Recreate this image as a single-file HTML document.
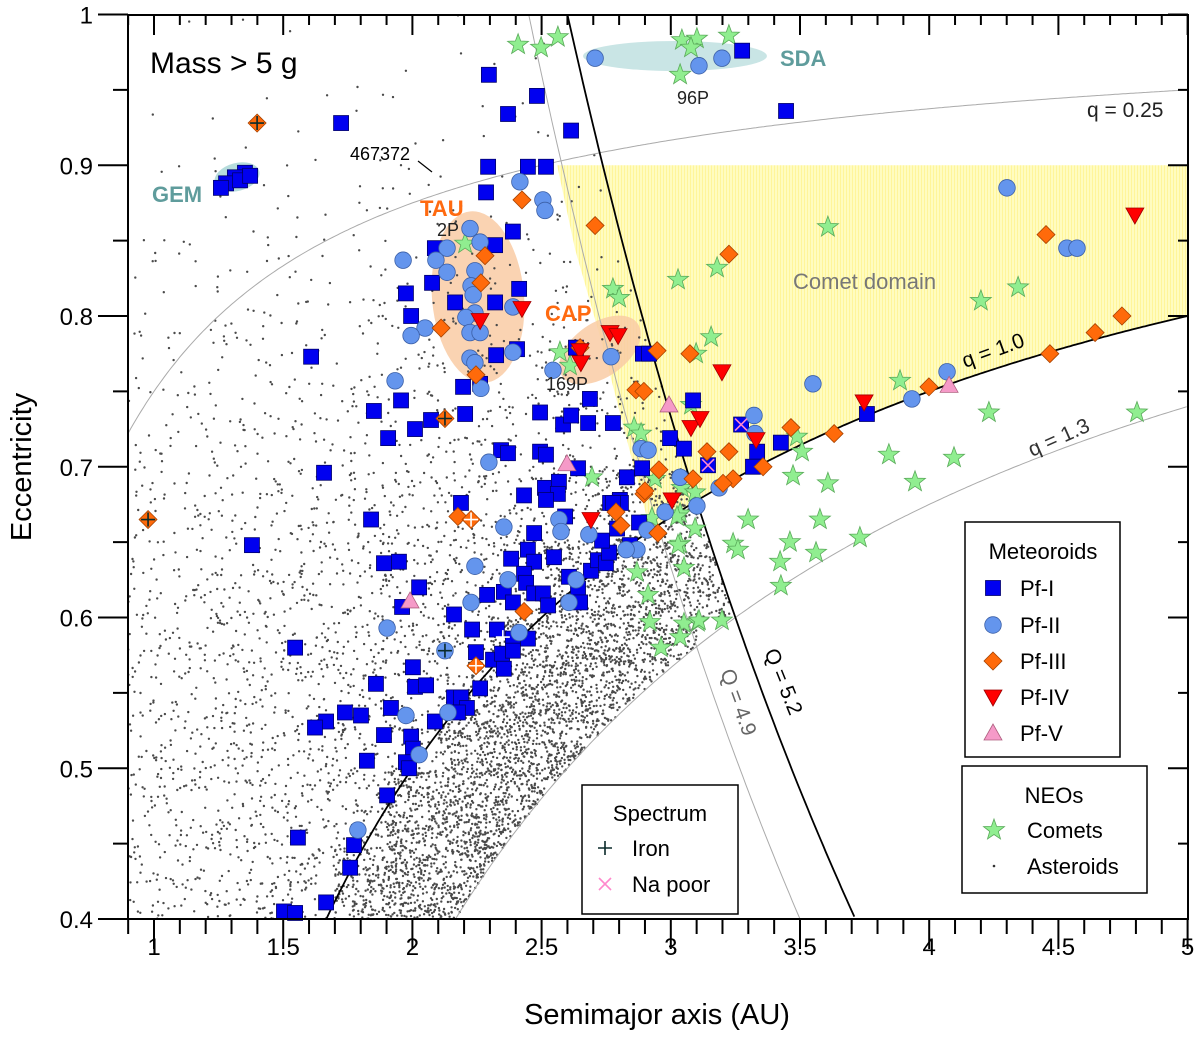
<!DOCTYPE html>
<html><head><meta charset="utf-8"><style>
html,body{margin:0;padding:0;background:#fff;}
svg{display:block;font-family:"Liberation Sans",Arial,sans-serif;}
</style></head><body>
<svg id="chart" width="1200" height="1040" viewBox="0 0 1200 1040" xmlns="http://www.w3.org/2000/svg">
<g id="bg"></g>
<g id="dots"></g>
<g id="curves"></g>
<g id="marks"></g>
<g id="axes"></g>
<g id="ann">
 <text x="150" y="73" font-size="30">Mass &gt; 5 g</text>
 <text x="152" y="202" font-size="22" font-weight="bold" fill="#5f9c9c">GEM</text>
 <text x="420" y="216" font-size="22" font-weight="bold" fill="#ff6a10">TAU</text>
 <text x="545" y="321" font-size="22" font-weight="bold" fill="#ff6a10">CAP</text>
 <text x="780" y="66" font-size="22" font-weight="bold" fill="#5f9c9c">SDA</text>
 <text x="437" y="236" font-size="18" fill="#222">2P</text>
 <text x="546" y="390" font-size="18" fill="#222">169P</text>
 <text x="677" y="104" font-size="18" fill="#222">96P</text>
 <text x="350" y="160" font-size="18" fill="#000">467372</text>
 <line x1="418" y1="161" x2="432" y2="172" stroke="#000" stroke-width="1.2"/>
 <text x="793" y="289" font-size="22" fill="#777">Comet domain</text>
 <text x="1087" y="117" font-size="21" fill="#222">q = 0.25</text>
 <text x="0" y="0" font-size="21" fill="#000" transform="translate(965,368) rotate(-20)">q = 1.0</text>
 <text x="0" y="0" font-size="21" fill="#333" transform="translate(1032,457) rotate(-24)">q = 1.3</text>
 <text x="0" y="0" font-size="21" fill="#000" transform="translate(764,652) rotate(68)">Q = 5.2</text>
 <text x="0" y="0" font-size="21" fill="#666" transform="translate(720,672) rotate(70)">Q = 4.9</text>
</g>
<g id="legends"></g>
</svg>
<script>
// ---------- data ----------
const xTicks=[1,1.5,2,2.5,3,3.5,4,4.5,5];
const xTickLabels=["1","1.5","2","2.5","3","3.5","4","4.5","5"];
const yTicks=[0.4,0.5,0.6,0.7,0.8,0.9,1];
const yTickLabels=["0.4","0.5","0.6","0.7","0.8","0.9","1"];

const pf1A=[1.724,2.296,2.482,2.370,2.614,2.293,2.447,2.517,2.285,2.389,2.320,2.087,2.076,1.975,2.165,2.320,2.413,1.995,2.324,2.405,1.608,2.196,2.262,1.956,1.851,2.010,1.906,2.072,2.204,2.343,2.494,2.494,2.583,2.614,2.680,2.687,2.776,2.892,2.633,1.352,1.313,1.279,1.259,1.333,1.372,3.276,3.446,2.916,3.086,2.997,3.051,3.426,3.759,3.334,3.318,2.830,2.889,2.765,2.803,1.658,1.379,1.840,1.890,1.948,2.026,1.960,1.546,2.188,2.370,2.517,2.641,2.432,2.513,2.567,2.563,2.517,2.591,2.471,2.447,2.382,2.471,2.548,2.432,2.440,2.354,2.389,2.471,2.505,2.525,2.289,2.161,2.231,2.327,2.389,2.447,2.246,2.312,2.354,2.347,2.389,2.002,1.859,2.010,2.053,2.262,2.161,2.188,2.211,2.176,2.087,1.917,1.739,1.801,1.666,1.623,1.890,1.995,2.002,1.824,1.975,1.987,1.902,1.557,1.774,1.759,1.666,1.503,1.546,2.606,2.641,2.649,2.691,2.718,2.749,2.761,2.734,2.807,2.776,2.842,2.877,2.792,3.272,3.144];
const pf1E=[0.928,0.960,0.946,0.934,0.923,0.899,0.899,0.899,0.882,0.856,0.847,0.845,0.822,0.815,0.809,0.809,0.818,0.800,0.774,0.778,0.773,0.753,0.755,0.744,0.737,0.725,0.719,0.731,0.735,0.711,0.710,0.736,0.728,0.734,0.729,0.745,0.729,0.775,0.779,0.895,0.892,0.888,0.885,0.890,0.893,0.976,0.936,0.775,0.744,0.719,0.712,0.716,0.735,0.710,0.700,0.693,0.699,0.676,0.678,0.696,0.648,0.665,0.636,0.637,0.620,0.607,0.580,0.676,0.709,0.708,0.699,0.681,0.686,0.690,0.682,0.678,0.667,0.656,0.645,0.639,0.637,0.640,0.629,0.623,0.617,0.610,0.616,0.616,0.608,0.615,0.602,0.592,0.592,0.586,0.586,0.577,0.572,0.566,0.576,0.578,0.567,0.556,0.554,0.555,0.553,0.547,0.547,0.540,0.537,0.531,0.540,0.537,0.535,0.531,0.527,0.522,0.521,0.513,0.505,0.504,0.500,0.482,0.454,0.449,0.434,0.411,0.405,0.404,0.627,0.619,0.610,0.631,0.638,0.636,0.643,0.651,0.676,0.676,0.648,0.663,0.659,0.728,0.701];

const pf2A=[2.707,3.109,3.198,2.416,2.505,2.513,2.223,2.262,2.134,2.091,1.964,2.134,2.242,2.227,2.235,2.242,2.207,2.223,2.262,2.049,1.995,2.389,2.389,2.223,2.242,1.933,2.265,2.544,2.769,2.885,4.301,4.533,4.572,3.550,4.069,3.933,3.322,3.326,2.912,3.036,3.187,3.101,2.978,2.296,2.354,2.567,2.575,2.683,2.242,2.227,2.370,1.902,1.975,2.138,2.026,1.789,2.606,2.633,2.908,2.869,2.827,2.413,2.126];
const pf2E=[0.971,0.966,0.971,0.889,0.877,0.870,0.858,0.849,0.845,0.837,0.837,0.829,0.830,0.820,0.814,0.802,0.799,0.789,0.789,0.792,0.787,0.806,0.776,0.772,0.769,0.757,0.752,0.764,0.773,0.712,0.885,0.845,0.845,0.755,0.763,0.745,0.734,0.722,0.711,0.693,0.686,0.674,0.670,0.703,0.660,0.665,0.657,0.655,0.634,0.610,0.625,0.593,0.535,0.537,0.509,0.459,0.610,0.625,0.658,0.645,0.645,0.590,0.578];

const pf3A=[1.399,2.424,2.707,2.281,2.265,2.111,2.246,2.865,2.126,2.649,3.225,4.452,4.746,4.642,4.467,3.999,3.632,3.465,3.225,3.140,2.947,3.074,2.896,3.357,3.241,3.202,3.086,2.954,2.896,2.788,0.977,2.176,2.227,2.432,2.246,2.807,2.950,2.900];
const pf3E=[0.928,0.877,0.860,0.840,0.822,0.792,0.761,0.751,0.732,0.779,0.841,0.854,0.800,0.789,0.775,0.753,0.722,0.726,0.710,0.710,0.777,0.775,0.750,0.700,0.692,0.689,0.692,0.698,0.682,0.670,0.665,0.667,0.665,0.604,0.568,0.661,0.656,0.684];

const pf4A=[2.424,2.262,2.765,2.796,2.649,2.652,3.198,3.748,4.796,3.078,3.113,3.330,3.005,2.691];
const pf4E=[0.805,0.797,0.789,0.787,0.777,0.769,0.763,0.743,0.867,0.726,0.732,0.718,0.678,0.665];

const pf5A=[2.993,4.077,2.598,1.991];
const pf5E=[0.741,0.754,0.702,0.611];

const cometA=[2.409,2.498,2.563,3.043,3.101,3.078,3.225,3.036,3.608,3.179,3.028,4.344,4.200,2.776,2.800,3.156,3.098,2.571,2.610,2.204,3.887,4.231,4.804,3.078,2.858,2.885,3.488,3.508,3.844,4.096,2.695,3.473,3.608,3.945,2.939,3.043,3.094,3.036,2.927,3.094,3.036,2.869,3.051,2.912,2.919,3.051,3.105,3.036,2.962,3.299,3.577,3.461,3.562,3.732,3.423,3.426,3.241,3.260,3.028,3.109,3.198,3.024];
const cometE=[0.980,0.978,0.985,0.983,0.984,0.978,0.986,0.960,0.859,0.832,0.824,0.819,0.810,0.818,0.812,0.786,0.775,0.776,0.767,0.848,0.757,0.736,0.736,0.741,0.726,0.722,0.720,0.710,0.708,0.706,0.693,0.694,0.689,0.690,0.692,0.686,0.683,0.669,0.666,0.659,0.649,0.630,0.633,0.615,0.597,0.596,0.597,0.587,0.580,0.665,0.665,0.650,0.643,0.653,0.637,0.621,0.649,0.645,0.648,0.598,0.598,0.667];

const ironDarkA=[1.399,2.126,0.977,2.126];
const ironDarkE=[0.928,0.732,0.665,0.578];
const ironLightA=[2.227,2.246,2.35];
const ironLightE=[0.665,0.568,0.587];
const naPoorA=[3.272,3.144];
const naPoorE=[0.728,0.701];

// asteroid density: rows e-bins from 0.40 (step 0.05), cols a-bins from 0.9 (step 0.2)
const astRow0=[40,45,50,55,200,260,260,260,260,0,0,0,0,0,0];
const astRow1=[40,45,50,55,65,230,260,260,260,0,0,0,0,0,0];
const astRow2=[38,42,48,52,60,70,230,260,260,260,0,0,0,0,0];
const astRow3=[34,38,44,48,55,60,70,200,240,240,220,0,0,0,0];
const astRow4=[28,32,38,42,48,52,58,65,180,220,220,180,120,0,0];
const astRow5=[22,26,30,34,38,42,46,50,55,110,150,110,80,40,0];
const astRow6=[16,18,20,22,24,26,28,30,34,36,30,30,20,10,0];
const astRow7=[12,13,14,15,16,17,18,18,18,16,14,8,4,0,0];
const astRow8=[7,8,9,10,10,11,11,11,11,9,5,2,0,0,0];
const astRow9=[4,4,5,6,6,7,7,7,6,4,2,1,0,0,0];
const astRow10=[1,2,2,3,3,3,3,4,4,2,1,0,0,0,0];
const astRow11=[0,1,1,1,1,1,2,2,2,1,0,0,0,0,0];
const astRows=[astRow0,astRow1,astRow2,astRow3,astRow4,astRow5,astRow6,astRow7,astRow8,astRow9,astRow10,astRow11];

// comet domain left boundary (a,e)
const domainA=[2.56,2.63,2.73,2.83,2.92];
const domainE=[0.9,0.844,0.784,0.718,0.658];

// ---------- axes ----------
const L=128,R=1188,T=15,B=919;
const X=a=>154+(a-1)*258.4;
const Y=e=>B-(e-0.4)*1507.5;
const NS="http://www.w3.org/2000/svg";
function mk(tag,attrs,parent){const el=document.createElementNS(NS,tag);for(const k in attrs)el.setAttribute(k,attrs[k]);parent.appendChild(el);return el;}
const gBg=document.getElementById('bg'),gDots=document.getElementById('dots'),gCurves=document.getElementById('curves'),gMarks=document.getElementById('marks'),gAxes=document.getElementById('axes'),gLeg=document.getElementById('legends');

const defs=mk('defs',{},gBg);
const cp=mk('clipPath',{id:'plotclip'},defs);
mk('rect',{x:L,y:T,width:R-L,height:B-T},cp);

const pat=mk('pattern',{id:'stripe',width:3,height:10,patternUnits:'userSpaceOnUse'},defs);
mk('rect',{x:0,y:0,width:3,height:10,fill:'#fffcc0'},pat);
mk('rect',{x:0,y:0,width:1,height:10,fill:'#fff59a'},pat);

let pts=[];
for(let i=0;i<domainA.length;i++)pts.push(X(domainA[i])+','+Y(domainE[i]));
for(let a=domainA[domainA.length-1];a<=5.0001;a+=0.02)pts.push(X(a)+','+Y(1-1/a));
pts.push(X(5)+','+Y(0.9));
const dom=mk('polygon',{points:pts.join(' '),fill:'url(#stripe)'},gBg);



const ell=[[237,177,23,14,-15,'#a9d6d6','gem-ellipse'],[478,297,46,86,-5,'#f9cba5','tau-ellipse'],[600,350,46,27,-35,'#f9cba5','cap-ellipse'],[675,56,92,15,0,'#bfe0e0','sda-ellipse']];
ell.forEach(o=>{const e=mk('ellipse',{cx:0,cy:0,rx:o[2],ry:o[3],fill:o[5],opacity:0.85,transform:`translate(${o[0]},${o[1]}) rotate(${o[4]})`},gBg);

});

function h(n){const s=Math.sin(n*12.9898+78.233)*43758.5453;return s-Math.floor(s);}
let idx=0;let dpath='';
astRows.forEach((row,ri)=>{row.forEach((cnt,ci)=>{
  const e0=0.40+ri*0.05,a0=0.9+ci*0.2;
  for(let k=0;k<cnt;k++){idx++;
    const a=a0+0.2*h(idx*3.1),e=e0+0.05*h(idx*7.7+1.3);
    if(e<1-1.3/a||a*(1+e)>5.2||a<0.9||e>1)continue;
    const x=X(a),y=Y(e);dpath+=`M${(x-1.2).toFixed(1)},${y.toFixed(1)}a1.2,1.2 0 1,0 2.4,0a1.2,1.2 0 1,0 -2.4,0`;}
});});
const dp=mk('path',{d:dpath,fill:'#4a4a4a','clip-path':'url(#plotclip)'},gDots);



function curve(fn,a0,a1,stroke,w,name){let d='';for(let a=a0;a<=a1+1e-6;a+=0.01){const e=fn(a);d+=(d?'L':'M')+X(a).toFixed(1)+','+Y(e).toFixed(1);}
 const p=mk('path',{d:d,fill:'none',stroke:stroke,'stroke-width':w,'clip-path':'url(#plotclip)'},gCurves);
 
 }
curve(a=>1-0.25/a,0.9,5,'#aaa',1,'q-025-curve');
curve(a=>1-1.3/a,1.3/0.6,5,'#aaa',1,'q-13-curve');
curve(a=>1-1/a,1/0.6,5,'#000',1.8,'q-10-curve');
curve(a=>4.9/a-1,2.45,3.5,'#aaa',1,'Q-49-curve');
curve(a=>5.2/a-1,2.6,5.2/1.4,'#000',1.8,'Q-52-curve');

function square(x,y,p){mk('rect',{x:x-7.5,y:y-7.5,width:15,height:15,fill:'#0000f0',stroke:'#00006a','stroke-width':0.8},p);}
function circle(x,y,p){mk('circle',{cx:x,cy:y,r:8.3,fill:'#6495ed',stroke:'#3b5fa6','stroke-width':0.8},p);}
function diamond(x,y,p){mk('polygon',{points:`${x},${y-9} ${x+9},${y} ${x},${y+9} ${x-9},${y}`,fill:'#ff6a0a',stroke:'#a84300','stroke-width':0.8},p);}
function tdown(x,y,p){mk('polygon',{points:`${x-9},${y-7} ${x+9},${y-7} ${x},${y+9}`,fill:'#ff0000',stroke:'#a00000','stroke-width':0.8},p);}
function tup(x,y,p){mk('polygon',{points:`${x-9},${y+7} ${x+9},${y+7} ${x},${y-9}`,fill:'#f59ac8',stroke:'#b06080','stroke-width':0.8},p);}
function star(x,y,p){let s='';for(let i=0;i<10;i++){const r=i%2?4.5:11,an=-Math.PI/2+i*Math.PI/5;s+=(x+r*Math.cos(an)).toFixed(1)+','+(y+r*Math.sin(an)).toFixed(1)+' ';}
 mk('polygon',{points:s,fill:'#90ee90',stroke:'#5aaa5a','stroke-width':0.8},p);}
function plus(x,y,p,c){mk('path',{d:`M${x-7},${y}H${x+7}M${x},${y-7}V${y+7}`,stroke:c,'stroke-width':1.6},p);}
function cross(x,y,p){mk('path',{d:`M${x-6},${y-6}L${x+6},${y+6}M${x+6},${y-6}L${x-6},${y+6}`,stroke:'#ff88cc','stroke-width':1.6},p);}

function series(name,A,E,fn,extra){const g=mk('g',{},gMarks);
 
 
 for(let i=0;i<A.length;i++)fn(X(A[i]),Y(E[i]),g,extra);}
series('comets-series',cometA,cometE,star);
series('pf-i-series',pf1A,pf1E,square);
series('pf-ii-series',pf2A,pf2E,circle);
series('pf-iii-series',pf3A,pf3E,diamond);
series('pf-iv-series',pf4A,pf4E,tdown);
series('pf-v-series',pf5A,pf5E,tup);
series('iron-dark-marks',ironDarkA,ironDarkE,plus,'#0a2a2a');
series('iron-light-marks',ironLightA,ironLightE,plus,'#ffffff');
series('na-poor-marks',naPoorA,naPoorE,cross);

const fr=mk('rect',{x:L,y:T,width:R-L,height:B-T,fill:'none',stroke:'#000','stroke-width':2},gAxes);


let td='';
for(let i=0;i<=41;i++){const a=0.9+i*0.1;const x=X(a);const major=Math.abs((a*2)-Math.round(a*2))<1e-6;
 td+=`M${x},${B}V${B+(major?30:15)}M${x},${T}V${T+(major?20:10)}`;}
for(let i=0;i<=12;i++){const e=0.4+i*0.05;const y=Y(e);const major=i%2===0;
 td+=`M${L},${y}H${L-(major?30:15)}M${R},${y}H${R-(major?20:10)}`;}
const tk=mk('path',{d:td,stroke:'#000','stroke-width':2,fill:'none'},gAxes);


xTicks.forEach((v,i)=>{const t=mk('text',{x:X(v),y:955,'font-size':24,'text-anchor':'middle'},gAxes);t.textContent=xTickLabels[i];
 
 });
yTicks.forEach((v,i)=>{const t=mk('text',{x:93,y:Y(v)+9,'font-size':24,'text-anchor':'end'},gAxes);t.textContent=yTickLabels[i];
 
 });
const xt=mk('text',{x:657,y:1024,'font-size':29,'text-anchor':'middle'},gAxes);xt.textContent='Semimajor axis (AU)';


const yt=mk('text',{x:0,y:0,'font-size':29,'text-anchor':'middle',transform:'translate(31,467) rotate(-90)'},gAxes);yt.textContent='Eccentricity';



function box(x,y,w,hh,name){const r=mk('rect',{x:x,y:y,width:w,height:hh,fill:'#fff',stroke:'#000','stroke-width':1.5},gLeg);
 
 }
function ltext(x,y,s,anchor,name){const t=mk('text',{x:x,y:y,'font-size':22,'text-anchor':anchor||'start'},gLeg);t.textContent=s;
 
 }
box(965,522,155,235,'meteoroids-legend');
ltext(1043,559,'Meteoroids','middle','meteoroids-legend-title');
const legY=[588,625,661,697,733],legN=['Pf-I','Pf-II','Pf-III','Pf-IV','Pf-V'],legF=[square,circle,diamond,tdown,tup];
legY.forEach((y,i)=>{legF[i](993,y,gLeg);ltext(1020,y+8,legN[i],'start','legend-entry-'+legN[i].toLowerCase());});
box(962,766,185,127,'neos-legend');
ltext(1054,803,'NEOs','middle','neos-legend-title');
star(994,830,gLeg);ltext(1027,838,'Comets','start','legend-entry-comets');
mk('circle',{cx:994,cy:866,r:1.3,fill:'#333'},gLeg);ltext(1027,874,'Asteroids','start','legend-entry-asteroids');
box(582,785,156,129,'spectrum-legend');
ltext(660,821,'Spectrum','middle','spectrum-legend-title');
plus(605,848,gLeg,'#0a2a2a');ltext(632,856,'Iron','start','legend-entry-iron');
cross(605,884,gLeg);ltext(632,892,'Na poor','start','legend-entry-na-poor');
</script>
</body></html>
